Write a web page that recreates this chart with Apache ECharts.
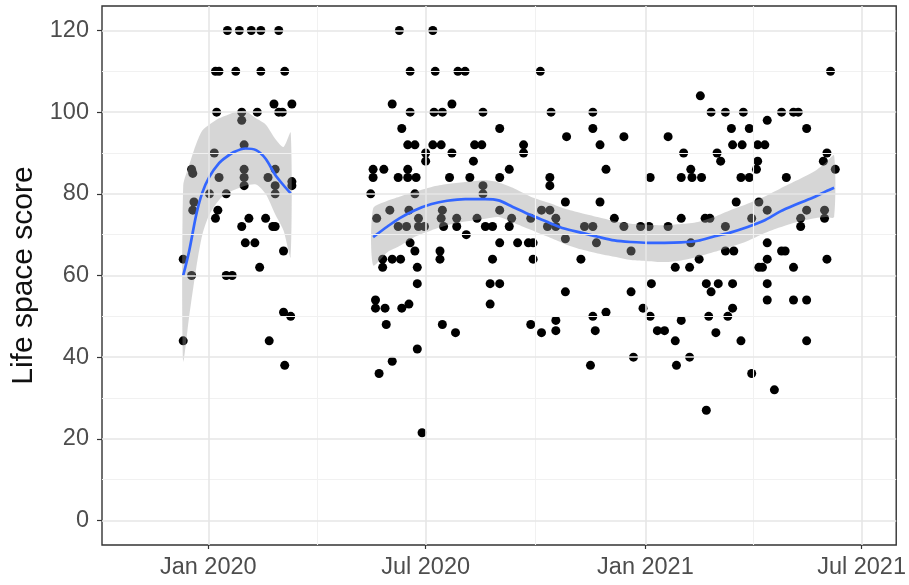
<!DOCTYPE html>
<html>
<head>
<meta charset="utf-8">
<script src="https://cdn.jsdelivr.net/npm/echarts@6/dist/echarts.min.js"></script>
<style>
  html, body { margin: 0; padding: 0; background: #ffffff; }
  #chart { width: 909px; height: 585px; }
</style>
</head>
<body>
<div id="chart"></div>
<script>
// Days are counted from 1 January 2020.
const DAY_MS = 86400000;
const ORIGIN = Date.UTC(2020, 0, 1);

// Axis window
const xRangeDays = [-89, 576];
const yRange = [-6, 126];

// Tick positions and labels
const xTickDates = ['2020-01-01', '2020-07-01', '2021-01-01', '2021-07-01'];
const xTickLabels = ['Jan 2020', 'Jul 2020', 'Jan 2021', 'Jul 2021'];
const xMinorDates = ['2020-04-01', '2020-10-01', '2021-04-01'];
const yTicks = [0, 20, 40, 60, 80, 100, 120];
const yMinor = [10, 30, 50, 70, 90, 110];

// Life space scores, first recording period: [day, score]
const firstPeriod = [
  [16,120],[26,120],[36,120],[44,120],[59,120],
  [6,110],[9,110],[23,110],[44,110],[64,110],
  [55,102],[70,102],
  [7,100],[28,100],[41,100],[59,100],[62,100],
  [28,98],[30,92],[5,90],
  [-14,86],[-13,85],[30,86],[56,86],
  [9,84],[30,84],[50,84],
  [30,82],[56,82],[70,82],[70,83],
  [1,80],[15,80],[56,80],
  [-12,78],[-13,76],[8,76],
  [6,74],[34,74],[48,74],
  [28,72],[54,72],[56,72],
  [31,68],[39,68],[63,66],[-21,64],[43,62],
  [-14,60],[15,60],[20,60],
  [-21,44],[51,44],[63,51],[69,50],[64,38]
];

// Life space scores, second recording period: [day, score]
const secondPeriod = [
  [160,120],[188,120],
  [169,110],[190,110],[209,110],[215,110],[278,110],[521,110],
  [412,104],
  [154,102],[204,102],
  [169,100],[189,100],[196,100],[230,100],[287,100],[322,100],[421,100],[433,100],[448,100],[480,100],[490,100],[494,100],
  [468,98],
  [162,96],[244,96],[322,96],[438,96],[453,96],[501,96],
  [300,94],[348,94],[385,94],
  [167,92],[173,92],[188,92],[195,92],[223,92],[229,92],[264,92],[328,92],[439,92],[447,92],[460,92],[466,92],
  [182,90],[204,90],[264,90],[398,90],[426,90],[518,90],
  [182,88],[222,88],[429,88],[460,88],[515,88],
  [138,86],[147,86],[167,86],[252,86],[333,86],[404,86],[459,86],[525,86],
  [138,84],[159,84],[167,84],[174,84],[202,84],[219,84],[244,84],[286,84],[370,84],[396,84],[405,84],[413,84],[446,84],[453,84],[484,84],
  [230,82],[286,82],
  [136,80],[173,80],[230,80],
  [299,78],[328,78],[442,78],[461,78],
  [152,76],[168,76],[196,76],[244,76],[279,76],[286,76],[468,76],[501,76],[516,76],
  [141,74],[176,74],[195,74],[208,74],[225,74],[254,74],[270,74],[291,74],[340,74],[396,74],[416,74],[420,74],[455,74],[496,74],[516,74],
  [159,72],[166,72],[176,72],[181,72],[197,72],[208,72],[232,72],[238,72],[252,72],[284,72],[291,72],[315,72],[322,72],[348,72],[362,72],[369,72],[385,72],[433,72],[496,72],
  [216,70],[299,69],
  [169,68],[244,68],[259,68],[268,68],[272,68],[325,68],[404,68],[468,68],
  [173,66],[194,66],[354,66],[433,66],[440,66],[480,66],[483,66],
  [146,64],[154,64],[161,64],[194,64],[238,64],[272,64],[312,64],[411,64],[468,64],[518,64],
  [146,62],[175,62],[391,62],[403,62],[461,62],[464,62],[490,62],
  [175,58],[236,58],[244,58],[371,58],[417,58],[427,58],[439,58],[468,58],
  [299,56],[354,56],[421,56],
  [140,54],[468,54],[490,54],[501,54],
  [236,53],[168,53],
  [140,52],[148,52],[162,52],[364,52],[439,52],
  [333,51],
  [322,50],[370,50],[419,50],[435,50],
  [291,49],[396,49],
  [149,48],[196,48],[270,48],
  [207,46],[291,46.5],[324,46.5],[376,46.5],[382,46.5],[279,46],[425,46],
  [391,44],[446,44],[501,44],
  [175,42],[356,40],[403,40],[154,39],[392,38],[320,38],
  [143,36],[455,36],[474,32],[417,27],[179,21.5]
];

// Local regression fit with 95% band, first period
const fit1Day   = [-21, -16, -10, -5, 1, 9, 15, 22, 31, 40, 48, 56, 63, 69];
const fit1Mean  = [60, 66, 75, 80.3, 84.2, 87.5, 89, 90.3, 91.1, 90.7, 88.6, 84.7, 82.1, 80.1];
const fit1Lower = [39, 50, 62, 70, 75, 78.5, 80, 81, 82, 82.3, 80, 75, 71, 64.5];
const fit1Upper = [82, 87, 92.3, 95.5, 97, 98.5, 99.2, 100, 100.3, 98.5, 97, 93.5, 91.5, 95];

// Local regression fit with 95% band, second period
const fit2Day   = [138, 150, 160, 173, 187, 200, 215, 232, 243, 255, 270, 285, 298, 312, 326, 340, 354, 368, 382, 396, 410, 424, 437, 451, 465, 479, 493, 508, 517, 524];
const fit2Mean  = [69.4, 72, 74, 76, 77.5, 78.3, 78.7, 78.7, 78.4, 76.8, 74.8, 73, 71.5, 70.5, 69.5, 68.6, 68.2, 68, 68, 68.1, 68.5, 69.6, 70.5, 71.8, 73.4, 75.7, 77.5, 79.3, 80.6, 81.5];
const fit2Lower = [62.5, 65.7, 67.2, 69.5, 71.1, 72.3, 73.2, 73.9, 74.3, 73, 71.2, 69.4, 67.8, 66.4, 65.4, 64.6, 63.8, 63.5, 63.3, 63.7, 64.6, 65.8, 67, 68.4, 70.3, 71.8, 73.1, 74, 74.3, 74.3];
const fit2Upper = [76.4, 78.3, 79.3, 80.5, 81.7, 82.4, 82.9, 83.3, 82.8, 81.5, 79.3, 77.8, 76.4, 75.3, 74.3, 73.3, 72.7, 72.4, 72.3, 72.6, 73.1, 74.4, 76, 77.5, 79.2, 81.3, 83.3, 85.6, 87.6, 89.4];

const toTime = d => ORIGIN + d * DAY_MS;
const parseDate = s => Date.parse(s + 'T00:00:00Z');
const xTickTimes = xTickDates.map(parseDate);

function pointsOf(rows) {
  return rows.map(r => [toTime(r[0]), r[1]]);
}

// Confidence band drawn as one closed shape: upper edge forward, lower edge back.
function bandSeries(days, lower, upper) {
  return {
    type: 'custom', z: 3, silent: true,
    data: days.map((d, i) => [toTime(d), lower[i], upper[i]]),
    encode: { x: 0, y: [1, 2] },
    renderItem: function (params, api) {
      if (params.dataIndex !== 0) return null;
      const top = days.map((d, i) => api.coord([toTime(d), upper[i]]));
      const bottom = days.map((d, i) => api.coord([toTime(d), lower[i]])).reverse();
      return {
        type: 'polygon',
        shape: { points: top.concat(bottom), smooth: 0.25 },
        style: { fill: '#999999', opacity: 0.4 }
      };
    }
  };
}

function fitLine(days, mean) {
  return {
    type: 'line', z: 4, silent: true,
    data: days.map((d, i) => [toTime(d), mean[i]]),
    symbol: 'none', smooth: 0.3,
    lineStyle: { color: '#3366FF', width: 2.7 }
  };
}

const majorGrid = { color: '#e6e6e6', width: 1.6, type: 'solid' };
const minorGrid = { color: '#f1f1f1', width: 1.1, type: 'solid' };

const gridLines = [].concat(
  yMinor.map(v => ({ yAxis: v, lineStyle: minorGrid })),
  xMinorDates.map(s => ({ xAxis: parseDate(s), lineStyle: minorGrid })),
  yTicks.map(v => ({ yAxis: v, lineStyle: majorGrid })),
  xTickTimes.map(t => ({ xAxis: t, lineStyle: majorGrid }))
);

const labelFont = 'Liberation Sans, Arial, sans-serif';

const option = {
  animation: false,
  backgroundColor: '#ffffff',
  grid: {
    left: 102, right: 9, top: 6, bottom: 40,
    show: true, borderColor: '#333333', borderWidth: 1.4, backgroundColor: 'transparent'
  },
  xAxis: {
    type: 'value',
    min: toTime(xRangeDays[0]),
    max: toTime(xRangeDays[1]),
    axisLine: { show: false, onZero: false },
    splitLine: { show: false },
    axisTick: { show: true, length: 4, customValues: xTickTimes, lineStyle: { color: '#333333', width: 1.2 } },
    axisLabel: {
      customValues: xTickTimes,
      margin: 11,
      color: '#4d4d4d',
      fontSize: 23.5,
      fontFamily: labelFont,
      formatter: function (value) {
        const i = xTickTimes.indexOf(value);
        return i >= 0 ? xTickLabels[i] : '';
      }
    }
  },
  yAxis: {
    type: 'value',
    min: yRange[0],
    max: yRange[1],
    name: 'Life space score',
    nameLocation: 'middle',
    nameGap: 60,
    nameTextStyle: { fontSize: 30, color: '#111111', fontFamily: labelFont },
    axisLine: { show: false, onZero: false },
    splitLine: { show: false },
    axisTick: { show: true, length: 5, customValues: yTicks, lineStyle: { color: '#333333', width: 1.2 } },
    axisLabel: {
      customValues: yTicks,
      margin: 13,
      color: '#4d4d4d',
      fontSize: 23.5,
      fontFamily: labelFont
    }
  },
  series: [
    {
      name: 'grid', type: 'line', data: [], z: 1, silent: true,
      markLine: { silent: true, symbol: 'none', label: { show: false }, animation: false, data: gridLines }
    },
    {
      name: 'scores', type: 'scatter', z: 2,
      data: pointsOf(firstPeriod).concat(pointsOf(secondPeriod)),
      symbol: 'circle', symbolSize: 9,
      itemStyle: { color: '#000000', opacity: 1 }
    },
    bandSeries(fit1Day, fit1Lower, fit1Upper),
    bandSeries(fit2Day, fit2Lower, fit2Upper),
    fitLine(fit1Day, fit1Mean),
    fitLine(fit2Day, fit2Mean)
  ]
};

const chart = echarts.init(document.getElementById('chart'), null, { renderer: 'canvas' });
chart.setOption(option);
</script>
</body>
</html>
